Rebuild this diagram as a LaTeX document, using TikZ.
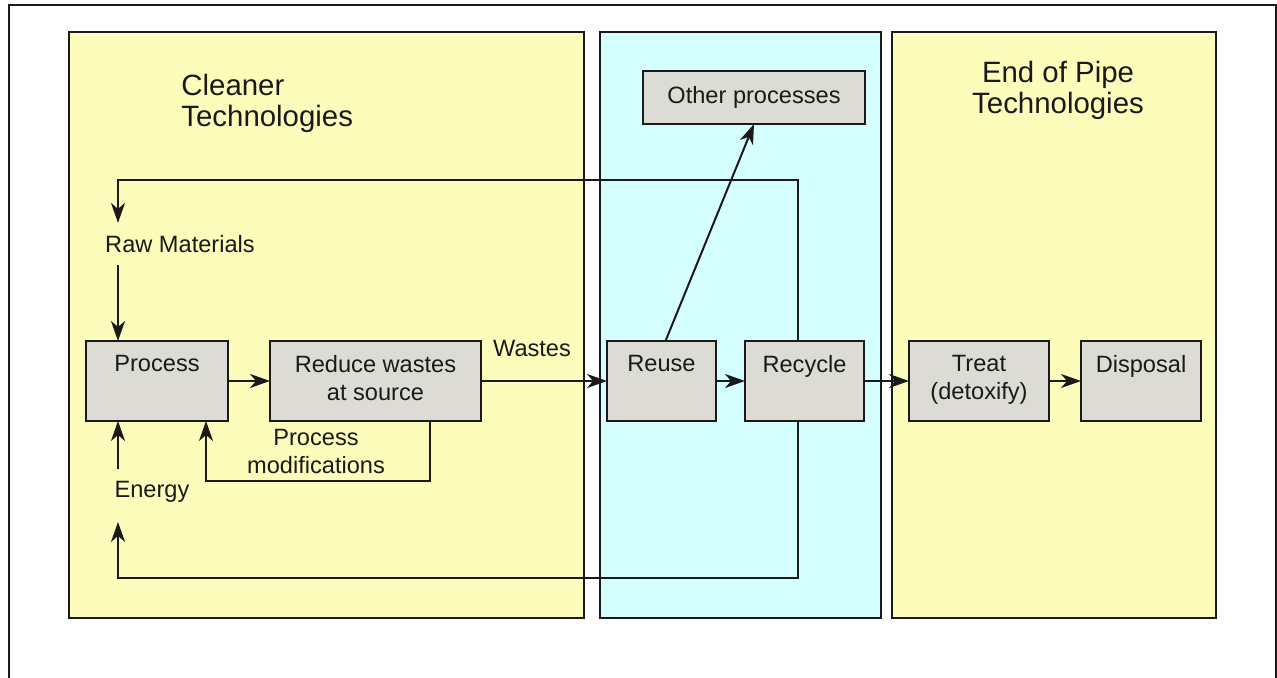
\documentclass[tikz,border=0pt]{standalone}
\usepackage{fontspec}
\setmainfont{Liberation Sans}
\usepackage{tikz}
\usetikzlibrary{arrows.meta,positioning}
\definecolor{ink}{HTML}{1A1A1A}
\definecolor{paleyellow}{HTML}{FCFCBB}
\definecolor{palecyan}{HTML}{D5FFFF}
\definecolor{boxgray}{HTML}{DCDBD4}
\newcommand{\bodysize}{\fontsize{11.8}{14}\selectfont}
\newcommand{\titlesize}{\fontsize{14.7}{15.3}\selectfont}

\begin{document}
\begin{tikzpicture}[x=0.5pt,y=-0.5pt,every node/.style={font=\bodysize,text=ink},panel/.style={draw=ink,line width=1pt},stage/.style={draw=ink,fill=boxgray,line width=1pt,minimum height=40pt,inner sep=0pt,outer sep=0pt},stagetext/.style={anchor=north,inner sep=0pt,yshift=-7pt,align=center},note/.style={inner sep=6pt},arr/.style={-{Stealth[length=10pt,width=7pt,inset=3pt]},line width=1pt,draw=ink}]
\useasboundingbox (0,0) rectangle (1277,678);
\draw[line width=1pt,draw=ink] (9,678) -- (9,5) -- (1276,5) -- (1276,678);
\draw[panel,fill=paleyellow] (69,32) rectangle (584,618);
\draw[panel,fill=palecyan] (600,32) rectangle (881,618);
\draw[panel,fill=paleyellow] (892,32) rectangle (1216,618);
\node[font=\titlesize,anchor=north west,align=left,inner sep=0pt] (cleantitle) at (181,74) {Cleaner\\Technologies};
\node[font=\titlesize,anchor=north,align=center,inner sep=0pt] (pipetitle) at (1058,61) {End of Pipe\\Technologies};
\node[stage,minimum width=71pt,label={[stagetext]north:Process}] (proc) at (157,381) {};
\node[stage,minimum width=105.5pt,right=21pt of proc,label={[stagetext]north:Reduce wastes\\at source}] (reduce) {};
\node[stage,minimum width=54.5pt,right=63pt of reduce,label={[stagetext]north:Reuse}] (reuse) {};
\node[stage,minimum width=59.5pt,right=14.5pt of reuse,label={[stagetext]north:Recycle}] (recyc) {};
\node[stage,minimum width=70pt,right=22.5pt of recyc,label={[stagetext]north:Treat\\(detoxify)}] (treat) {};
\node[stage,minimum width=60pt,right=16pt of treat,label={[stagetext]north:Disposal}] (disposal) {};
\node[stage,minimum width=111pt,minimum height=26.5pt] (other) at (754,97.5) {Other processes};
\node[note] (rawmat) at (180,244) {Raw Materials};
\node[note] (energy) at (152,492) {Energy};
\node[inner sep=0pt] (wastes) at (532,348) {Wastes};
\node[inner sep=0pt,align=center] (modnote) at (316,451) {Process\\modifications};
\coordinate (inlet) at (118,0);
\coordinate (toploop) at (118,180);
\coordinate (botloop) at (118,578);
\coordinate (modloop) at (206,481);
\draw[arr] ([xshift=-3.5pt]recyc.north) |- (toploop) -- (rawmat.north -| inlet);
\draw[arr] (rawmat.south -| inlet) -- (proc.north -| inlet);
\draw[arr] (proc.east) -- (reduce.west);
\draw[arr] (reduce.east) -- (reuse.west);
\draw[arr] (reuse.east) -- (recyc.west);
\draw[arr] (recyc.east) -- (treat.west);
\draw[arr] (treat.east) -- (disposal.west);
\draw[arr] ([xshift=2pt]reuse.north) -- (other.south);
\draw[arr] ([xshift=27pt]reduce.south) |- (modloop) -- (proc.south -| modloop);
\draw[arr] (energy.north -| inlet) -- (proc.south -| inlet);
\draw[arr,shorten >=3.5pt] ([xshift=-3.5pt]recyc.south) |- (botloop) -- (energy.south -| inlet);
\end{tikzpicture}
\end{document}
